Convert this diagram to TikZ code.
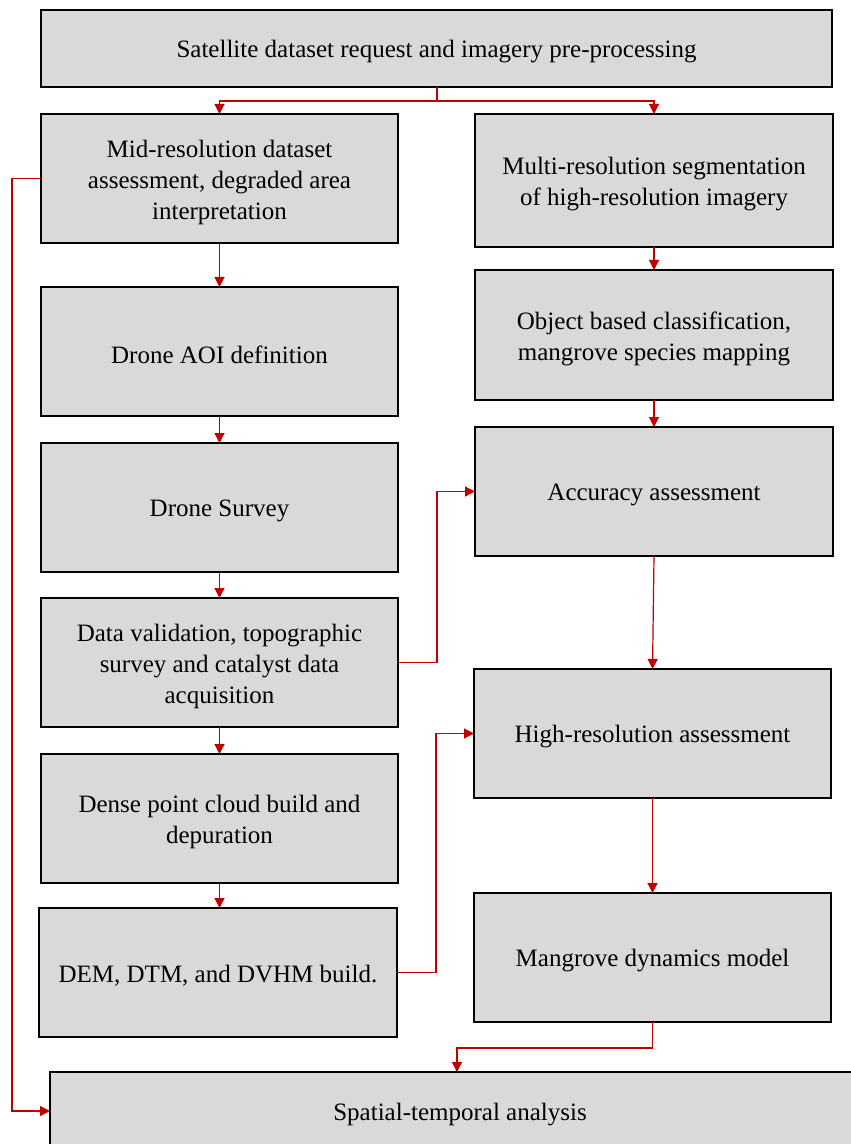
\documentclass[tikz,border=0pt]{standalone}
\usepackage{fontspec}
\setmainfont{Liberation Serif}
\usetikzlibrary{arrows.meta,calc}
\definecolor{boxfill}{RGB}{217,217,217}
\definecolor{arrred}{RGB}{192,0,0}
\newcommand\bxfont{\fontsize{18.75pt}{23.25pt}\selectfont}
\newcommand\bx[5]{%
  \node[box,minimum width=#3,minimum height=#4] (#1) at #2 {};
  \node[txt] (#1-t) at ($(#1.center)+(0,3.5)$) {#5};}
\hyphenpenalty=10000
\exhyphenpenalty=10000
\begin{document}
\begin{tikzpicture}[x=0.75pt,y=-0.75pt,
  box/.style={draw=black,line width=1.3pt,fill=boxfill,inner sep=0pt,outer sep=0pt},
  txt/.style={inner sep=0pt,align=center,font=\bxfont},
  conn/.style={draw=arrred,line width=0.9pt,-{Triangle[length=7.5pt,width=7.5pt]}}]
\useasboundingbox (0,0) rectangle (850,1144);
% top
\bx{top}{(436.5,48.5)}{593.25pt}{57.75pt}{Satellite dataset request and imagery pre-processing}
% left column
\bx{mid}{(219.5,178.5)}{267.75pt}{96.75pt}{Mid-resolution dataset\\assessment, degraded area\\interpretation}
\bx{aoi}{(219.5,351.5)}{267.75pt}{96.75pt}{Drone AOI definition}
\bx{survey}{(219.5,507.5)}{267.75pt}{96.75pt}{Drone Survey}
\bx{valid}{(219.5,662.5)}{267.75pt}{96.75pt}{Data validation, topographic\\survey and catalyst data\\acquisition}
\bx{dense}{(219.5,818.5)}{267.75pt}{96.75pt}{Dense point cloud build and\\depuration}
\bx{dem}{(218,972.5)}{268.5pt}{96.75pt}{DEM, DTM, and DVHM build.}
% right column
\bx{multi}{(654,180.5)}{268.5pt}{99.75pt}{Multi-resolution segmentation\\of high-resolution imagery}
\bx{object}{(654,335)}{268.5pt}{97.5pt}{Object based classification,\\mangrove species mapping}
\bx{acc}{(654,491.5)}{268.5pt}{96.75pt}{Accuracy assessment}
\bx{high}{(652.5,733.5)}{267.75pt}{96.75pt}{High-resolution assessment}
\bx{mang}{(652.5,957.5)}{267.75pt}{96.75pt}{Mangrove dynamics model}
% bottom
\bx{bot}{(460,1111)}{615pt}{58.5pt}{Spatial-temporal analysis}
% connectors
\coordinate (split) at (437,101);
\coordinate (bin) at (457,1072);
\draw[draw=arrred,line width=0.9pt] (top.south -| split) -- (split);
\draw[conn] (split) -| (mid.north);
\draw[conn] (split) -| (multi.north);
\draw[conn] (mid) -- (aoi);
\draw[conn] (aoi) -- (survey);
\draw[conn] (survey) -- (valid);
\draw[conn] (valid) -- (dense);
\draw[conn] (dense.south) -- (dense.south |- dem.north);
\draw[conn] (multi) -- (object);
\draw[conn] (object) -- (acc);
\draw[conn] (acc.south) -- (high.north);
\draw[conn] (high) -- (mang);
\draw[conn] (valid.east) -- ++(39,0) |- (acc.west);
\draw[conn] (dem.east) -- ++(39,0) |- (high.west);
\draw[conn] (mang.south) -- ++(0,26) -| (bin);
\draw[conn] (mid.west) -- ++(-29,0) |- (bot.west);
\end{tikzpicture}
\end{document}
